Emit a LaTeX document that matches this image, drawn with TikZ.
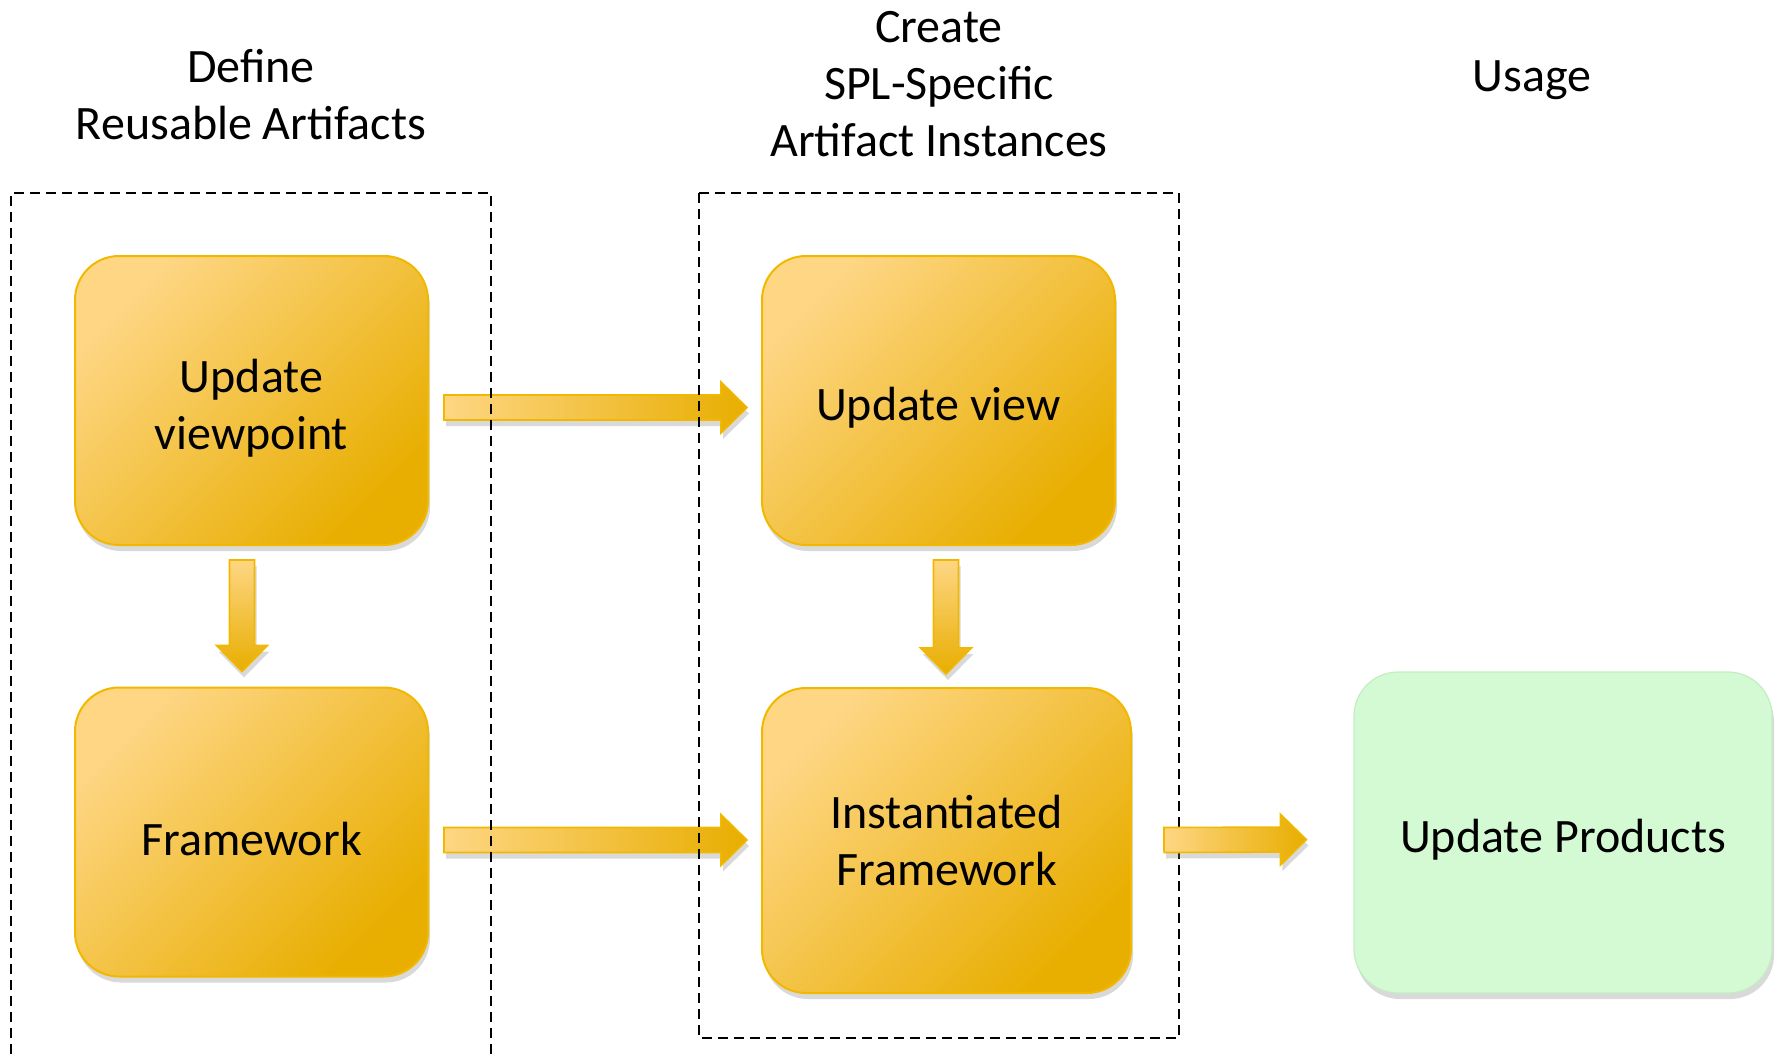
\documentclass[tikz,border=0pt]{standalone}
\usepackage{fontspec}
\setmainfont{Carlito}
\usepackage{tikz}
\usetikzlibrary{calc,positioning,shadows}
\usepackage{xcolor}

\definecolor{orLight}{HTML}{FED684}
\definecolor{orDark}{HTML}{E8AE00}
\definecolor{orLine}{HTML}{F2B800}
\definecolor{prodGreen}{HTML}{D4FAD4}
\definecolor{prodLine}{HTML}{C6ECC6}

\newcommand{\bigfont}{\fontsize{24}{28.5}\selectfont}
\newcommand{\tstrut}{\rule{0pt}{24pt}}

% block arrow from #1 to #2, #3 = shading
\newcommand{\blockarrow}[3]{%
  \coordinate (hb) at ($(#2)!13pt!(#1)$);
  \filldraw[flowarrow,#3] ($(#1)!6.25pt!90:(#2)$) -- ($(hb)!6.25pt!90:(#2)$)
    -- ($(hb)!12.75pt!90:(#2)$) -- (#2) -- ($(hb)!12.75pt!-90:(#2)$)
    -- ($(hb)!6.25pt!-90:(#2)$) -- ($(#1)!6.25pt!-90:(#2)$) -- cycle;
}

\begin{document}
\begin{tikzpicture}[x=0.5pt, y=-0.5pt,
  taskbox/.style={draw=orLine, line width=1pt, rounded corners=22pt,
    top color=orLight, bottom color=orDark, shading angle=45,
    minimum width=176.5pt, minimum height=144.5pt, align=center, font=\bigfont,
    drop shadow={opacity=0.3, shadow xshift=1pt, shadow yshift=-3pt}},
  prodbox/.style={draw=prodLine, line width=0.6pt, fill=prodGreen, rounded corners=22pt,
    minimum width=209pt, minimum height=160.5pt, align=center, font=\bigfont,
    drop shadow={opacity=0.3, shadow xshift=1pt, shadow yshift=-3pt}},
  heading/.style={align=center, font=\bigfont},
  stagebox/.style={dash pattern=on 5pt off 3pt, line width=1pt},
  flowarrow/.style={draw=orLine, line width=0.8pt,
    drop shadow={opacity=0.3, shadow xshift=1pt, shadow yshift=-3pt}}]
\useasboundingbox (0,0) rectangle (1779,1054);

% column titles
\node[heading] (hdef) at (251,95) {Define\\Reusable Artifacts};
\node[heading] (hcre) at (939,84) {Create\\SPL-Specific\\Artifact Instances};
\node[heading] (huse) at (1532,80) {Usage};

% boxes
\node[taskbox] (uvp) at (251.5,400.5) {\tstrut Update\\viewpoint};
\node[taskbox] (fw) at (251.5,832) {\tstrut Framework};
\node[taskbox] (uv) at (938.5,400.5) {\tstrut Update view};
\node[taskbox, minimum width=184.5pt, minimum height=152.5pt] (ifw) at (946.5,840.5) {Instantiated\\Framework};
\node[prodbox] (up) at (1563,832.5) {\tstrut Update Products};

% arrow ends
\coordinate (a1s) at ([shift={(15,7)}]uvp.east);
\coordinate (a1e) at ([shift={(-14,7)}]uv.west);
\coordinate (a2s) at ([shift={(-9.5,14)}]uvp.south);
\coordinate (a2e) at ([shift={(-9.5,-15)}]fw.north);
\coordinate (a3s) at ([shift={(7.5,14)}]uv.south);
\coordinate (a3e) at ([shift={(-0.5,-13)}]ifw.north);
\coordinate (a4s) at ([shift={(15,8)}]fw.east);
\coordinate (a4e) at ([shift={(-14,-0.5)}]ifw.west);
\coordinate (a5s) at ([shift={(32,-0.5)}]ifw.east);
\coordinate (a5e) at ([shift={(-47,7)}]up.west);

\blockarrow{a1s}{a1e}{left color=orLight, right color=orDark}
\blockarrow{a2s}{a2e}{top color=orLight, bottom color=orDark}
\blockarrow{a3s}{a3e}{top color=orLight, bottom color=orDark}
\blockarrow{a4s}{a4e}{left color=orLight, right color=orDark}

% dashed stage frames
\draw[stagebox] (11,1054) -- (11,193) -- (491,193) -- (491,1054);
\draw[stagebox] (699,193) rectangle (1179,1038);

\blockarrow{a5s}{a5e}{left color=orLight, right color=orDark}

\end{tikzpicture}
\end{document}
